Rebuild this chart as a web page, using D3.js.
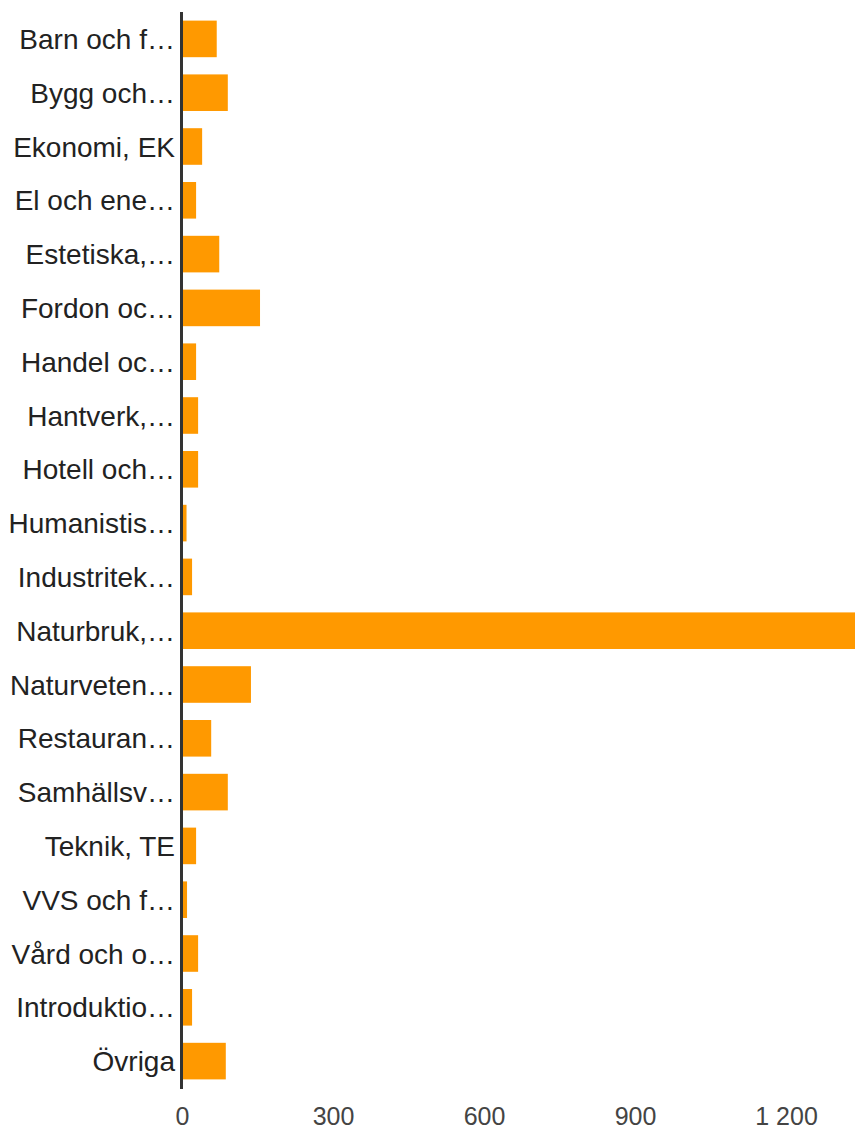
<!DOCTYPE html>
<html>
<head>
<meta charset="utf-8">
<script src="https://cdn.jsdelivr.net/npm/d3@7"></script>
<style>
  html, body { margin: 0; padding: 0; background: #fff; }
  svg { display: block; }
  text { font-family: "Liberation Sans", Arial, sans-serif; }
</style>
</head>
<body>
<svg id="chart" width="855" height="1131"></svg>
<script>
const categories = [
  "Barn och f…", "Bygg och…", "Ekonomi, EK", "El och ene…", "Estetiska,…",
  "Fordon oc…", "Handel oc…", "Hantverk,…", "Hotell och…", "Humanistis…",
  "Industritek…", "Naturbruk,…", "Naturveten…", "Restauran…", "Samhällsv…",
  "Teknik, TE", "VVS och f…", "Vård och o…", "Introduktio…", "Övriga"
];
const values = [69, 91, 40, 28, 74, 155, 28, 32, 32, 9, 20, 1337, 137, 58, 91, 28, 10, 32, 20, 87];
const tickValues = [0, 300, 600, 900, 1200];

const svg = d3.select("#chart");
const plotLeft = 182, plotRight = 855, plotTop = 12, plotBottom = 1088;

const x = d3.scaleLinear().domain([0, d3.max(values)]).range([plotLeft, plotRight]);
const y = d3.scaleBand().domain(categories).range([plotTop, plotBottom])
  .paddingInner(0.32).paddingOuter(0.16);

const locale = d3.formatLocale({ decimal: ",", thousands: " ", grouping: [3], currency: ["", " kr"] });
const fmt = locale.format(",d");

svg.append("g").selectAll("rect")
  .data(categories)
  .join("rect")
  .attr("x", x(0))
  .attr("y", d => y(d))
  .attr("width", (d, i) => x(values[i]) - x(0))
  .attr("height", y.bandwidth())
  .attr("fill", "#ff9900");

// Y labels
svg.append("g").selectAll("text")
  .data(categories)
  .join("text")
  .attr("x", 175)
  .attr("y", d => y(d) + y.bandwidth() / 2)
  .attr("dy", "0.36em")
  .attr("text-anchor", "end")
  .attr("font-size", 28)
  .attr("fill", "#222")
  .text(d => d);

// X axis tick labels
const xAxis = d3.axisBottom(x).tickValues(tickValues).tickFormat(fmt).tickSize(0).tickPadding(0);
const gx = svg.append("g").attr("transform", `translate(0, ${plotBottom})`).call(xAxis);
gx.select(".domain").remove();
gx.selectAll("text")
  .attr("font-size", 25)
  .attr("fill", "#444")
  .attr("font-family", "Liberation Sans, Arial, sans-serif")
  .attr("dy", null)
  .attr("y", 37);

// Vertical axis line
svg.append("line")
  .attr("x1", 181.5).attr("x2", 181.5)
  .attr("y1", plotTop).attr("y2", plotBottom + 1)
  .attr("stroke", "#333")
  .attr("stroke-width", 3);
</script>
</body>
</html>
